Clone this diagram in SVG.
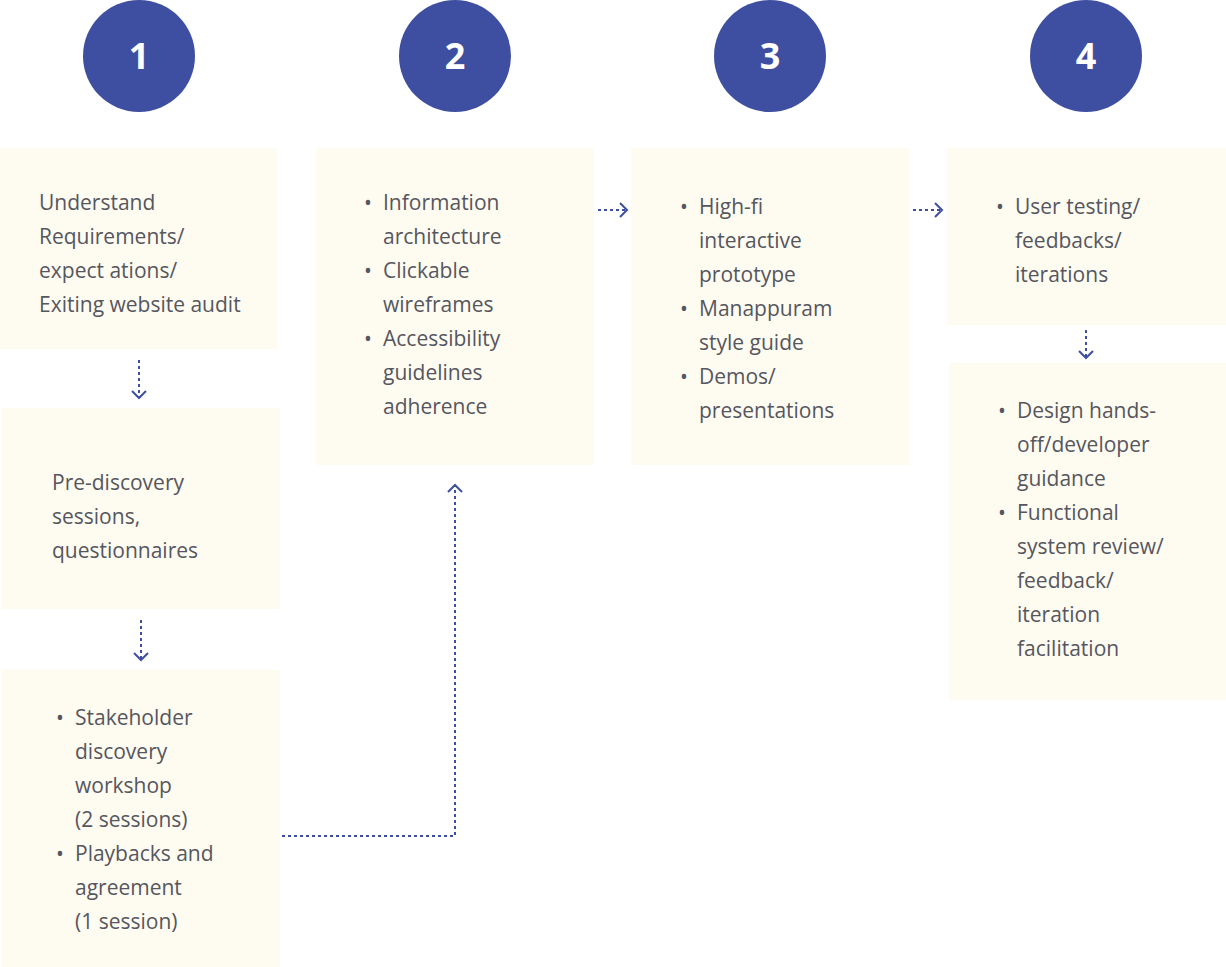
<svg xmlns="http://www.w3.org/2000/svg" width="1226" height="967" viewBox="0 0 1226 967">
<style>
.box{fill:#fefcf0}
.num{fill:#3e4fa1}
.numt{fill:#ffffff;font-family:"Open Sans","Liberation Sans",sans-serif;font-weight:bold;font-size:36px;text-anchor:middle}
.t{fill:#56565f;font-family:"Open Sans","Liberation Sans",sans-serif;font-size:21px}
.con{fill:none;stroke:#3e4fa1;stroke-width:2;stroke-dasharray:3 3}
.ah{fill:none;stroke:#3e4fa1;stroke-width:2}
</style>
<defs>
<marker id="arr" markerUnits="userSpaceOnUse" markerWidth="20" markerHeight="20" viewBox="-10 -10 20 20" refX="0" refY="0" orient="auto">
<path d="M-7,-7 L0,0 L-7,7" fill="none" stroke="#3e4fa1" stroke-width="2"/>
</marker>
</defs>
<rect width="1226" height="967" fill="#ffffff"/>
<g id="step1"><circle class="num" cx="139" cy="56" r="56"/><text class="numt" x="139" y="69">1</text></g>
<g id="step2"><circle class="num" cx="455" cy="56" r="56"/><text class="numt" x="455" y="69">2</text></g>
<g id="step3"><circle class="num" cx="770" cy="56" r="56"/><text class="numt" x="770" y="69">3</text></g>
<g id="step4"><circle class="num" cx="1086" cy="56" r="56"/><text class="numt" x="1086" y="69">4</text></g>

<g id="n1a"><rect class="box" x="0" y="148" width="277" height="201"/>
<text class="t" x="39" y="210">Understand</text>
<text class="t" x="39" y="244">Requirements/</text>
<text class="t" x="39" y="278">expect ations/</text>
<text class="t" x="39" y="312">Exiting website audit</text></g>

<g id="n1b"><rect class="box" x="2" y="408" width="278" height="201"/>
<text class="t" x="52" y="490">Pre-discovery</text>
<text class="t" x="52" y="524">sessions,</text>
<text class="t" x="52" y="558">questionnaires</text></g>

<g id="n1c"><rect class="box" x="2" y="670" width="278" height="297"/>
<text class="t" x="56" y="725">•</text><text class="t" x="75" y="725">Stakeholder</text>
<text class="t" x="75" y="759">discovery</text>
<text class="t" x="75" y="793">workshop</text>
<text class="t" x="75" y="827">(2 sessions)</text>
<text class="t" x="56" y="861">•</text><text class="t" x="75" y="861">Playbacks and</text>
<text class="t" x="75" y="895">agreement</text>
<text class="t" x="75" y="929">(1 session)</text></g>

<g id="n2"><rect class="box" x="316" y="148" width="278" height="317"/>
<text class="t" x="364" y="210">•</text><text class="t" x="383" y="210">Information</text>
<text class="t" x="383" y="244">architecture</text>
<text class="t" x="364" y="278">•</text><text class="t" x="383" y="278">Clickable</text>
<text class="t" x="383" y="312">wireframes</text>
<text class="t" x="364" y="346">•</text><text class="t" x="383" y="346">Accessibility</text>
<text class="t" x="383" y="380">guidelines</text>
<text class="t" x="383" y="414">adherence</text></g>

<g id="n3"><rect class="box" x="631" y="148" width="278" height="317"/>
<text class="t" x="680" y="214">•</text><text class="t" x="699" y="214">High-fi</text>
<text class="t" x="699" y="248">interactive</text>
<text class="t" x="699" y="282">prototype</text>
<text class="t" x="680" y="316">•</text><text class="t" x="699" y="316">Manappuram</text>
<text class="t" x="699" y="350">style guide</text>
<text class="t" x="680" y="384">•</text><text class="t" x="699" y="384">Demos/</text>
<text class="t" x="699" y="418">presentations</text></g>

<g id="n4a"><rect class="box" x="947" y="148" width="279" height="177"/>
<text class="t" x="996" y="214">•</text><text class="t" x="1015" y="214">User testing/</text>
<text class="t" x="1015" y="248">feedbacks/</text>
<text class="t" x="1015" y="282">iterations</text></g>

<g id="n4b"><rect class="box" x="949" y="363" width="277" height="337"/>
<text class="t" x="998" y="418">•</text><text class="t" x="1017" y="418">Design hands-</text>
<text class="t" x="1017" y="452">off/developer</text>
<text class="t" x="1017" y="486">guidance</text>
<text class="t" x="998" y="520">•</text><text class="t" x="1017" y="520">Functional</text>
<text class="t" x="1017" y="554">system review/</text>
<text class="t" x="1017" y="588">feedback/</text>
<text class="t" x="1017" y="622">iteration</text>
<text class="t" x="1017" y="656">facilitation</text></g>

<g id="connectors">
<path class="con" d="M139,360 L139,398" marker-end="url(#arr)"/>
<path class="con" d="M141,620 L141,660" marker-end="url(#arr)"/>
<path class="con" d="M282,836 L455,836 L455,485" marker-end="url(#arr)"/>
<path class="con" d="M598,210 L627,210" marker-end="url(#arr)"/>
<path class="con" d="M913,210 L942,210" marker-end="url(#arr)"/>
<path class="con" d="M1086,330 L1086,358" marker-end="url(#arr)"/>
</g>
</svg>
